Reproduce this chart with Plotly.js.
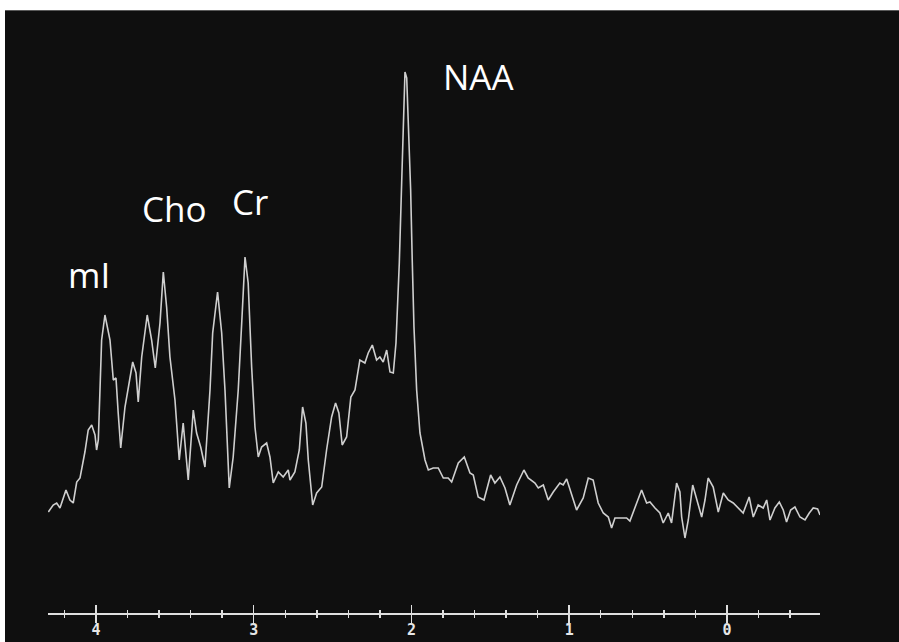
<!DOCTYPE html>
<html>
<head>
<meta charset="utf-8">
<script src="https://cdn.plot.ly/plotly-3.0.1.min.js"></script>
<style>
  html, body { margin: 0; padding: 0; background: #ffffff; width: 899px; height: 642px; overflow: hidden; }
  #chart { position: absolute; left: 5px; top: 10px; width: 894px; height: 631px; border-top: 1px solid #5a5a5a; }
</style>
</head>
<body>
<div id="chart"></div>
<script>
// Chemical shift (ppm)
const ppm = [
  4.302, 4.271, 4.249, 4.228, 4.190, 4.165, 4.144, 4.122, 4.101, 4.091,
  4.070, 4.049, 4.027, 4.006, 3.996, 3.985, 3.975, 3.964, 3.943, 3.911,
  3.890, 3.873, 3.859, 3.843, 3.816, 3.795, 3.767, 3.746, 3.732, 3.710,
  3.675, 3.647, 3.624, 3.594, 3.573, 3.552, 3.531, 3.499, 3.472, 3.447,
  3.429, 3.415, 3.383, 3.362, 3.336, 3.309, 3.277, 3.260, 3.229, 3.203,
  3.182, 3.155, 3.130, 3.098, 3.076, 3.055, 3.035, 3.013, 2.992, 2.971,
  2.950, 2.918, 2.897, 2.876, 2.844, 2.813, 2.781, 2.770, 2.739, 2.711,
  2.690, 2.669, 2.654, 2.626, 2.601, 2.569, 2.538, 2.506, 2.481, 2.460,
  2.439, 2.411, 2.384, 2.358, 2.327, 2.295, 2.274, 2.248, 2.221, 2.200,
  2.179, 2.157, 2.136, 2.115, 2.098, 2.077, 2.062, 2.052, 2.041, 2.030,
  2.020, 2.005, 1.995, 1.984, 1.967, 1.946, 1.914, 1.893, 1.862, 1.830,
  1.798, 1.767, 1.745, 1.703, 1.665, 1.629, 1.608, 1.577, 1.540, 1.498,
  1.471, 1.439, 1.407, 1.376, 1.333, 1.287, 1.260, 1.217, 1.196, 1.164,
  1.133, 1.101, 1.059, 1.038, 1.016, 0.984, 0.953, 0.911, 0.879, 0.848,
  0.816, 0.784, 0.752, 0.731, 0.710, 0.678, 0.636, 0.615, 0.583, 0.541,
  0.509, 0.488, 0.456, 0.425, 0.404, 0.372, 0.351, 0.319, 0.298, 0.287,
  0.266, 0.245, 0.217, 0.192, 0.160, 0.139, 0.119, 0.087, 0.055, 0.023,
  -0.008, -0.040, -0.072, -0.103, -0.141, -0.167, -0.198, -0.230, -0.252, -0.273,
  -0.304, -0.332, -0.357, -0.378, -0.404, -0.431, -0.463, -0.495, -0.522, -0.547,
  -0.575, -0.590
];

// Signal intensity (arbitrary units)
const intensity = [
  101, 108, 110, 105, 123, 113, 110, 131, 135, 143,
  161, 183, 188, 178, 163, 173, 213, 273, 298, 273,
  233, 235, 200, 165, 206, 226, 251, 240, 211, 256,
  298, 273, 245, 290, 341, 306, 256, 213, 153, 190,
  160, 133, 203, 180, 166, 146, 223, 280, 321, 280,
  223, 125, 156, 223, 290, 356, 330, 246, 186, 156,
  166, 170, 156, 130, 141, 136, 143, 133, 141, 163,
  206, 190, 153, 108, 120, 126, 163, 196, 210, 200,
  168, 176, 216, 223, 253, 250, 260, 268, 253, 256,
  251, 263, 241, 240, 270, 350, 430, 496, 541, 535,
  496, 423, 353, 286, 223, 180, 153, 143, 145, 145,
  135, 135, 131, 150, 156, 140, 138, 116, 113, 138,
  130, 136, 125, 108, 128, 143, 135, 130, 125, 128,
  113, 121, 130, 128, 134, 118, 103, 115, 135, 133,
  110, 100, 96, 85, 95, 95, 95, 92, 105, 123,
  110, 111, 105, 100, 90, 100, 90, 130, 121, 96,
  75, 93, 128, 113, 96, 113, 135, 126, 101, 120,
  113, 110, 105, 100, 116, 96, 108, 105, 113, 93,
  105, 111, 103, 91, 103, 106, 96, 93, 100, 105,
  104, 98
];

// Peak labels
const peakNames = ["mI", "Cho", "Cr", "NAA"];
const peakLabelPpm = [4.044, 3.499, 3.024, 1.578];
const peakLabelY = [339, 405, 412, 537];

// Axis ticks
const tickVals = [4, 3, 2, 1, 0];
const tickText = ["4", "3", "2", "1", "0"];

const lineColor = "#cfcfcf";
const axisColor = "#dedede";
const xRange = [4.304, -0.590];

const traces = [
  {
    x: ppm, y: intensity, type: "scatter", mode: "lines",
    line: { color: lineColor, width: 1.6, shape: "linear" },
    hoverinfo: "x+y", showlegend: false, xaxis: "x", yaxis: "y"
  },
  {
    x: ppm, y: intensity, type: "scatter", mode: "lines",
    line: { color: lineColor, width: 0 }, opacity: 0,
    hoverinfo: "skip", showlegend: false, xaxis: "x2", yaxis: "y"
  }
];

const annotations = peakNames.map((name, i) => ({
  x: peakLabelPpm[i], y: peakLabelY[i], xref: "x", yref: "y",
  text: name, showarrow: false, xanchor: "center", yanchor: "middle",
  font: { family: "Open Sans, Noto Sans, sans-serif", size: 35, color: "#ffffff" }
}));

const layout = {
  width: 894, height: 631,
  paper_bgcolor: "#0f0f0f", plot_bgcolor: "#0f0f0f",
  margin: { l: 43, r: 79, t: 0, b: 29, pad: 0 },
  showlegend: false,
  xaxis: {
    range: xRange, autorange: false,
    showgrid: false, zeroline: false,
    showline: true, linecolor: axisColor, linewidth: 2,
    tickmode: "array", tickvals: tickVals, showticklabels: false,
    ticks: "outside", ticklen: 8, tickwidth: 1.5, tickcolor: axisColor,
    minor: { dtick: 0.2, tick0: 0, ticks: "outside", ticklen: 3, tickwidth: 1.5, tickcolor: axisColor, showgrid: false },
    fixedrange: true
  },
  xaxis2: {
    overlaying: "x", anchor: "y", side: "bottom",
    range: xRange, autorange: false,
    showgrid: false, zeroline: false, showline: false,
    tickmode: "array", tickvals: tickVals, ticktext: tickText,
    ticks: "inside", ticklen: 8, tickwidth: 1.5, tickcolor: axisColor,
    ticklabelstandoff: 6,
    tickfont: { family: "DejaVu Sans Mono, monospace", size: 15, weight: "bold", color: "#e6e6e6" },
    minor: { dtick: 0.2, tick0: 0, ticks: "inside", ticklen: 3, tickwidth: 1.5, tickcolor: axisColor, showgrid: false },
    fixedrange: true
  },
  yaxis: {
    range: [0, 602], autorange: false, visible: false,
    showgrid: false, zeroline: false, fixedrange: true
  },
  annotations: annotations
};

Plotly.newPlot("chart", traces, layout, { displayModeBar: false, staticPlot: true });
</script>
</body>
</html>
